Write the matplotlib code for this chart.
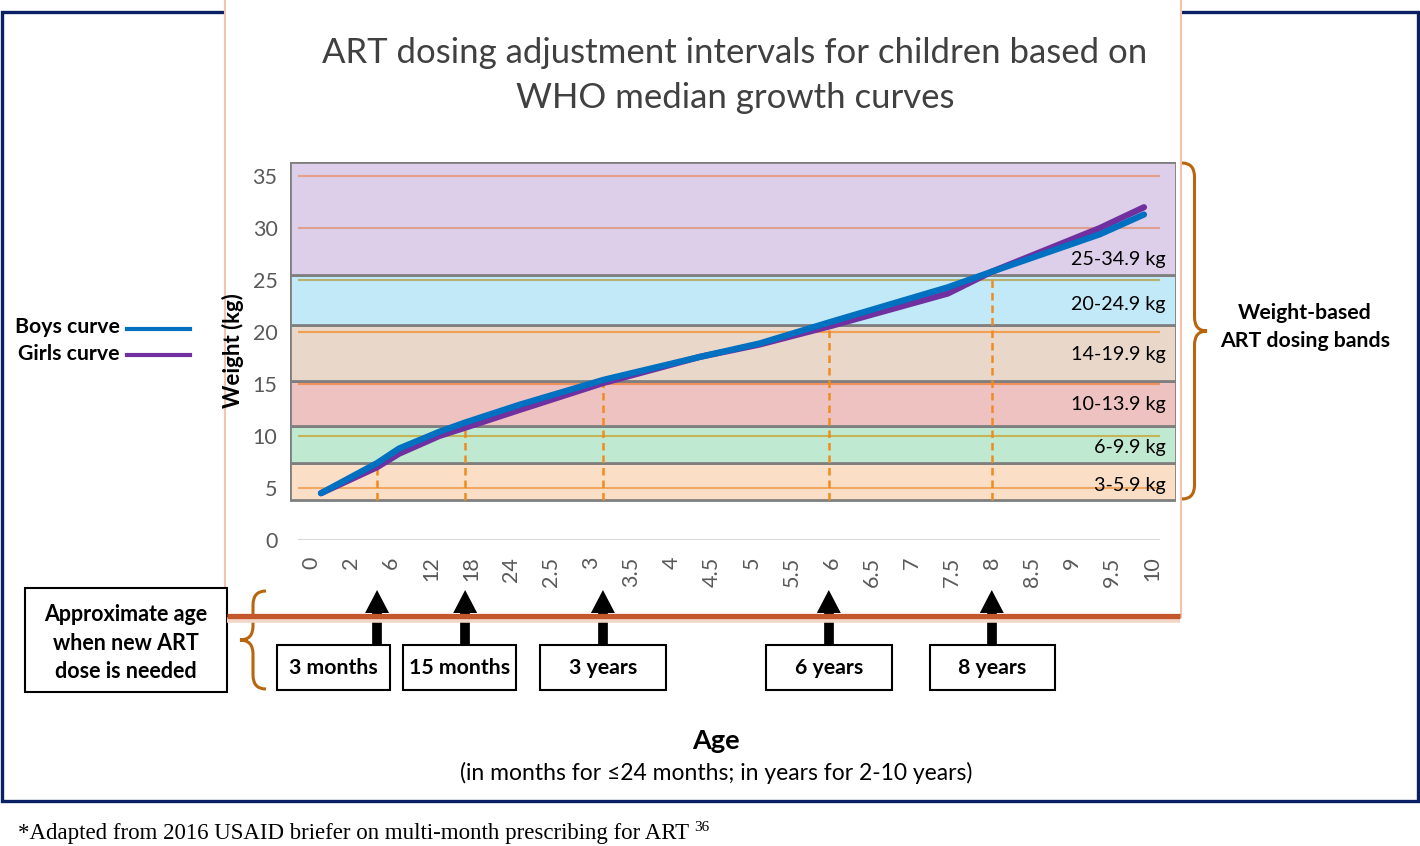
import numpy as np
import matplotlib.pyplot as plt
from matplotlib.patches import Rectangle, Polygon, PathPatch
from matplotlib.path import Path

plt.rcParams['font.family'] = ['Lato', 'DejaVu Sans']

# x axis categories (months up to 24, then years)
age_labels = ['0', '2', '6', '12', '18', '24', '2.5', '3', '3.5', '4', '4.5',
              '5', '5.5', '6', '6.5', '7', '7.5', '8', '8.5', '9', '9.5', '10']

# growth curves, x given in category positions
curve_x = [0.25, 1.65, 2.2, 3.2, 3.85, 5.2, 7.3, 9.7, 11.2, 13.0, 15.9, 17.0, 19.7, 20.8]
boys_kg = [4.5, 7.4, 8.8, 10.4, 11.3, 13.0, 15.4, 17.6, 18.9, 21.0, 24.3, 25.8, 29.4, 31.3]
girls_kg = [4.5, 7.0, 8.3, 10.0, 10.8, 12.5, 15.1, 17.6, 18.8, 20.6, 23.7, 25.8, 30.0, 32.0]

# weight bands
band_edges = [3.85, 7.4, 10.96, 15.3, 20.7, 25.5, 36.35]
band_labels = ['3-5.9 kg', '6-9.9 kg', '10-13.9 kg', '14-19.9 kg', '20-24.9 kg', '25-34.9 kg']
band_label_y = [5.2, 8.9, 13.0, 17.8, 22.6, 27.0]
band_colors = ['#FADFC6', '#C0E9D2', '#EFC2C2', '#E9D7CA', '#C2E9F8', '#DDCFE9']

# dose change points
dose_x = [1.65, 3.85, 7.29, 12.93, 17.0]
dose_top = [7.2, 11.0, 15.1, 21.0, 26.0]
dose_labels = ['3 months', '15 months', '3 years', '6 years', '8 years']

yticks = [0, 5, 10, 15, 20, 25, 30, 35]
grid_colors = ['#D9D9D9', '#F2A860', '#C4B455', '#F0905A', '#F0A050', '#B8B070', '#E0A090', '#E6A088']

W, H = 1420, 846
fig = plt.figure(figsize=(W / 100, H / 100), dpi=100)

# background overlay in image pixel coords
bg = fig.add_axes([0, 0, 1, 1])
bg.set_xlim(0, W)
bg.set_ylim(H, 0)
bg.axis('off')

navy = '#0B1F65'
bg.add_patch(Rectangle((2, 12), 1416, 789, fill=False, ec=navy, lw=2.4))
bg.add_patch(Rectangle((225, -5), 956, 622, fc='white', ec='#F2C4B0', lw=1.5))
bg.plot([227, 1180], [620, 620], color='#F2D6C8', lw=4, solid_capstyle='butt', zorder=1.2)

# main chart
ax = fig.add_axes([290 / W, (H - 540) / H, 886 / W, 378 / H])
ax.set_xlim(-0.524, 21.6)
ax.set_ylim(0, 36.35)
ax.patch.set_alpha(0)
for s in ax.spines.values():
    s.set_visible(False)

for lo, hi, c in zip(band_edges[:-1], band_edges[1:], band_colors):
    ax.add_patch(Rectangle((-0.524, lo), 22.124, hi - lo, fc=c, ec='#7F7F7F', lw=2, zorder=1))

ax.hlines(yticks, -0.32, 21.2, colors=grid_colors, lw=1.5, zorder=2)

for lbl, y in zip(band_labels, band_label_y):
    ax.text(21.35, y, lbl, ha='right', va='center', fontsize=14.2, color='black', zorder=5)

ax.vlines(dose_x, band_edges[0], dose_top, colors='#F08C1E', lw=1.8,
          linestyles=(0, (3, 2)), zorder=3)

ax.plot(curve_x, girls_kg, color='#7030A0', lw=4.5, solid_capstyle='round', zorder=4)
ax.plot(curve_x, boys_kg, color='#0070C0', lw=4.5, solid_capstyle='round', zorder=4)

ax.set_yticks(yticks)
ax.set_xticks(range(len(age_labels)))
ax.set_xticklabels(age_labels, rotation=90, va='top')
ax.tick_params(axis='both', length=0, labelsize=15.5, colors='#595959')
ax.tick_params(axis='y', pad=9)
ax.tick_params(axis='x', pad=12)

ax.set_ylabel('Weight (kg)', fontsize=16, fontweight='bold', labelpad=6)

# title
bg.text(735, 53, 'ART dosing adjustment intervals for children based on',
        ha='center', va='center', fontsize=25, color='#404040')
bg.text(735, 98, 'WHO median growth curves', ha='center', va='center', fontsize=25, color='#404040')

# legend
bg.text(120, 327, 'Boys curve', ha='right', va='center', fontsize=15.3, fontweight='bold')
bg.text(120, 354, 'Girls curve', ha='right', va='center', fontsize=15.3, fontweight='bold')
bg.plot([127, 190], [329, 329], color='#0070C0', lw=3)
bg.plot([127, 190], [355, 355], color='#7030A0', lw=3)


def brace(x0, x1, ytop, ybot, ymid):
    xm = (x0 + x1) / 2
    r = 14
    verts = [(x0, ytop), (xm, ytop), (xm, ytop + r),
             (xm, ymid - r), (xm, ymid), (x1, ymid),
             (xm, ymid), (xm, ymid + r),
             (xm, ybot - r), (xm, ybot), (x0, ybot)]
    codes = [Path.MOVETO, Path.CURVE3, Path.CURVE3,
             Path.LINETO, Path.CURVE3, Path.CURVE3,
             Path.CURVE3, Path.CURVE3,
             Path.LINETO, Path.CURVE3, Path.CURVE3]
    bg.add_patch(PathPatch(Path(verts, codes), fc='none', ec='#B8650E', lw=2.2))


brace(1182, 1207, 163, 499, 331)
brace(266, 240, 591, 689, 640)

bg.text(1305, 327, 'Weight-based\nART dosing bands', ha='center', va='center',
        fontsize=15.3, fontweight='bold', linespacing=1.5)

# left note box
bg.add_patch(Rectangle((25, 588), 202, 104, fc='white', ec='black', lw=1.5))
bg.text(126, 643, 'Approximate age\nwhen new ART\ndose is needed', ha='center', va='center',
        fontsize=15.5, fontweight='bold', linespacing=1.45)

# arrows and age boxes
box_left = [277, 403, 540, 766, 930]
box_right = [390, 516, 666, 892, 1055]
for xi, lbl, l, r in zip(dose_x, dose_labels, box_left, box_right):
    px = ax.transData.transform((xi, 0))[0]
    bg.plot([px, px], [645, 605], color='black', lw=7, solid_capstyle='butt', zorder=1)
    bg.add_patch(Polygon([(px - 12, 613), (px + 12, 613), (px, 590)], closed=True,
                         fc='black', ec='none', zorder=1))
    bg.add_patch(Rectangle((l, 645), r - l, 45, fc='white', ec='black', lw=1.5, zorder=2))
    bg.text((l + r) / 2, 668, lbl, ha='center', va='center', fontsize=15.3,
            fontweight='bold', zorder=3)
bg.plot([227, 1180], [616, 616], color='#C4582C', lw=3.8, solid_capstyle='butt', zorder=1.5)

bg.text(716, 741, 'Age', ha='center', va='center', fontsize=19.5, fontweight='bold')
bg.text(716, 773, '(in months for \u226424 months; in years for 2-10 years)',
        ha='center', va='center', fontsize=16.5)

foot = bg.text(18, 833, '*Adapted from 2016 USAID briefer on multi-month prescribing for ART ',
               ha='left', va='center', fontsize=16.5, family='Liberation Serif')
bg.annotate('36', xy=(1, 0.75), xycoords=foot, ha='left', va='center',
            fontsize=11, family='Liberation Serif')

fig.savefig('out.png', dpi=100)
